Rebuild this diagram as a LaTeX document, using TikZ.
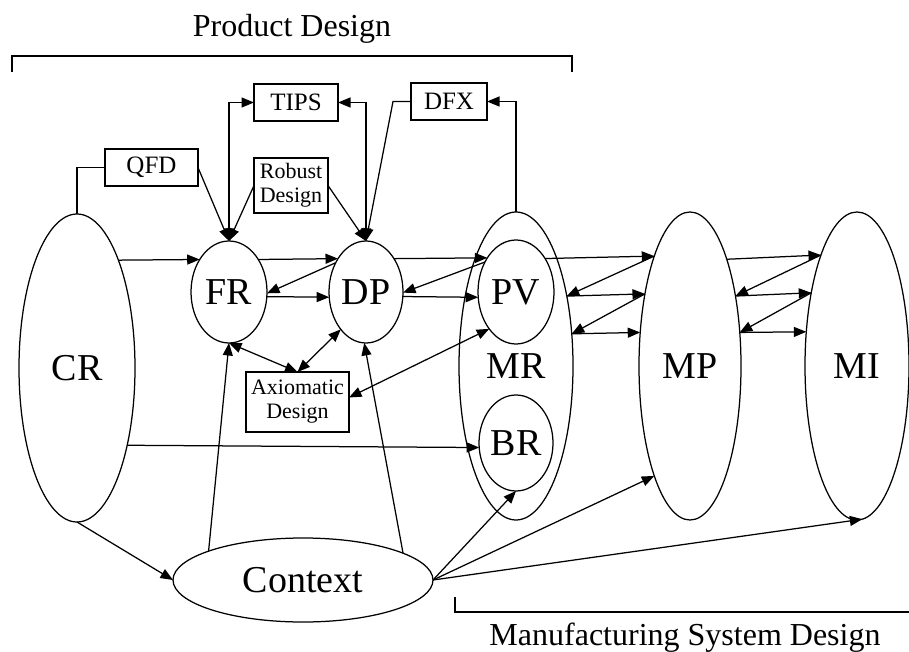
\documentclass[tikz,border=0pt]{standalone}
\usepackage{fontspec}
\setmainfont{Liberation Serif}
\usetikzlibrary{shapes.geometric,arrows.meta,calc}

\begin{document}
\begin{tikzpicture}[x=1pt,y=-1pt,
  line width=1.25pt,
  >={Triangle[length=12.5pt,width=10pt]},
  oval/.style={ellipse,draw,inner sep=0pt,outer sep=0pt,font=\fontsize{38}{42}\selectfont},
  box/.style={rectangle,draw,inner sep=0pt,outer sep=0pt,align=center,font=\fontsize{25}{28}\selectfont},
  boxtwo/.style={box,font=\fontsize{22}{24}\selectfont},
  lbl/.style={inner sep=0pt,anchor=base,font=\fontsize{32}{36}\selectfont}
]
\useasboundingbox (0,0) rectangle (909,652);

% main ellipses
\node[oval,minimum width=116pt,minimum height=308pt] (CR) at (77,368) {CR};
\node[oval,minimum width=76pt,minimum height=102pt] (FR) at (229,292) {FR};
\node[oval,minimum width=74pt,minimum height=102pt] (DP) at (366,292) {DP};
\node[oval,minimum width=114pt,minimum height=308pt] (MR) at (516,366) {MR};
\node[oval,minimum width=76pt,minimum height=104pt] (PV) at (516,292) {PV};
\node[oval,minimum width=74pt,minimum height=96pt] (BR) at (516,443) {BR};
\node[oval,minimum width=102pt,minimum height=308pt] (MP) at (690,366) {MP};
\node[oval,minimum width=104pt,minimum height=308pt] (MI) at (857,366) {MI};
\node[oval,minimum width=260pt,minimum height=84pt] (Ctx) at (303,580) {Context};

% method boxes
\node[box,minimum width=93pt,minimum height=37pt] (QFD) at (151.5,167.5) {QFD};
\node[box,minimum width=84pt,minimum height=37pt] (TIPS) at (296,102.5) {TIPS};
\node[box,minimum width=76pt,minimum height=37pt] (DFX) at (449,101.5) {DFX};
\node[boxtwo,minimum width=74pt,minimum height=55pt] (Rob) at (291,185.5) {Robust\\Design};
\node[boxtwo,minimum width=103pt,minimum height=60pt] (Axi) at (297.5,402) {Axiomatic\\Design};

% section labels and brackets
\node[lbl] (PDt) at (292,37) {Product Design};
\draw (12,72) -- (12,56) -- (572,56) -- (572,72);
\node[lbl] (MSDt) at (685,645) {Manufacturing System Design};
\draw (455,597) -- (455,612) -- (909,612);

% tools feeding the product design domains
\draw (CR.north) |- (QFD.west);
\draw[->] (QFD.east) -- (FR.north);
\draw[<->] (FR.north) |- (TIPS.west);
\draw[<->] (DP.north) |- (TIPS.east);
\draw[->] (Rob.west) -- (FR.north);
\draw[->] (Rob.east) -- (DP.north);
\coordinate (dfxk) at ($(DFX.west)+(-18,0)$);
\draw[->] (DFX.west) -- (dfxk) -- (DP.north);
\draw[->] (MR.north) |- (DFX.east);

% zigzag mapping CR - FR - DP - PV
\draw[->] (CR.69.05) -- (FR.132.76);
\draw[->] (FR.48.72) -- (DP.130.52);
\draw[->] (DP.136) -- (FR.-2);
\draw[->] (FR.-7.53) -- (DP.-172.3);
\draw[->] (DP.50.95) -- (PV.130.22);
\draw[->] (PV.136) -- (DP.-1);
\draw[->] (DP.-7.75) -- (PV.-172.45);
\draw[->] (CR.-57.77) -- (BR.-173.81);

% axiomatic design links
\draw[<->] (FR.south) -- (Axi.north);
\draw[<->] (DP.-124.4) -- (Axi.north);
\draw[<->] (PV.-126.4) -- (Axi.5);

% context
\draw[->] (CR.south) -- (Ctx.west);
\draw[->] (Ctx.163.1) -- (FR.south);
\draw[->] (Ctx.15.3) -- (DP.-92);
\draw[->] (Ctx.east) -- (BR.south);
\draw[->] (Ctx.east) -- (MP.-108.3);
\draw[->] (Ctx.east) -- (MI.-88);

% zigzag MR - MP
\draw[->] (PV.49.78) -- (MP.108.61);
\draw[->] (MP.108.61) -- (MR.54.5);
\draw[->] (MR.54.5) -- (MP.122.52);
\draw[->] (MP.122.52) -- (MR.30.6);
\draw[->] (MR.30.6) -- (MP.146.47);

% zigzag MP - MI
\draw[->] (MP.71.39) -- (MI.108.95);
\draw[->] (MI.108.95) -- (MP.57.95);
\draw[->] (MP.57.95) -- (MI.122.56);
\draw[->] (MI.122.56) -- (MP.34.36);
\draw[->] (MP.34.36) -- (MI.146.16);
\end{tikzpicture}
\end{document}
